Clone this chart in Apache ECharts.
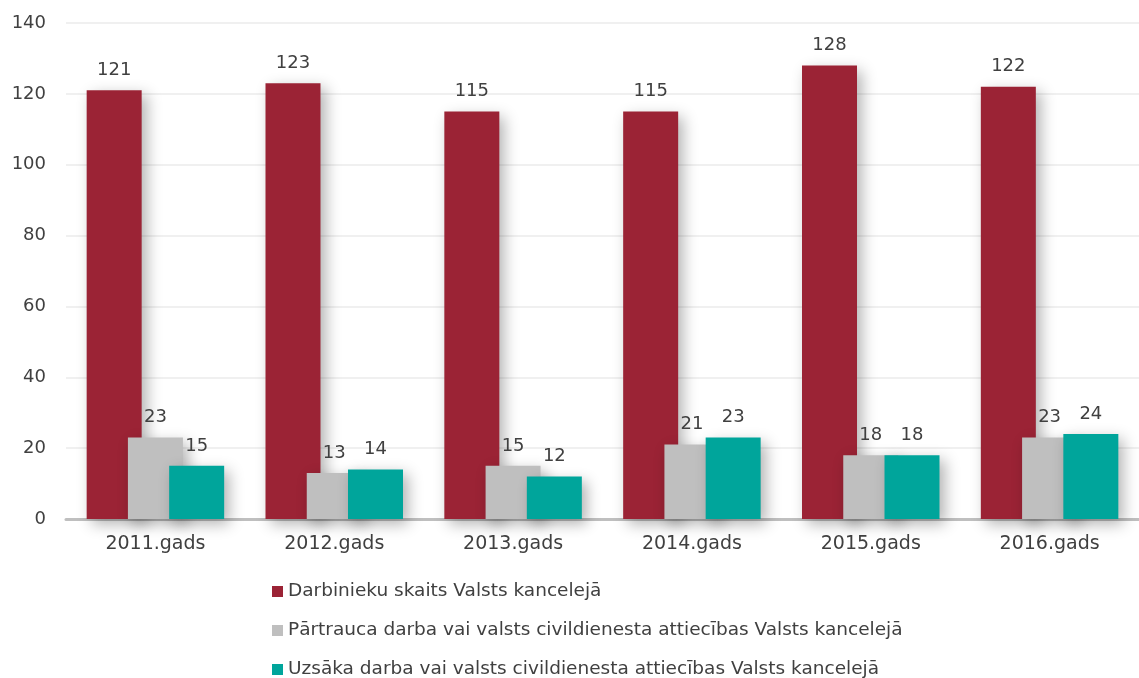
<!DOCTYPE html>
<html>
<head>
<meta charset="utf-8">
<script src="https://cdn.jsdelivr.net/npm/echarts@6/dist/echarts.min.js"></script>
<style>
html, body { margin: 0; padding: 0; background: #fff; }
#chart { width: 1139px; height: 678px; }
</style>
</head>
<body>
<div id="chart"></div>
<script>
// dati no attēla
var years = ["2011.gads", "2012.gads", "2013.gads", "2014.gads", "2015.gads", "2016.gads"];
var seriesNames = [
	"Darbinieku skaits Valsts kancelejā",
	"Pārtrauca darba vai valsts civildienesta attiecības Valsts kancelejā",
	"Uzsāka darba vai valsts civildienesta attiecības Valsts kancelejā"
];
var staff = [121, 123, 115, 115, 128, 122];
var left = [23, 13, 15, 21, 18, 23];
var joined = [15, 14, 12, 23, 18, 24];
var colors = ["#9b2335", "#bfbfbf", "#00a59b"];

var font = "DejaVu Sans";
var textColor = "#404040";

function barSeries(name, data, color) {
	return {
		name: name,
		type: "bar",
		data: data,
		barWidth: 55,
		barGap: "-25%",
		itemStyle: {
			color: color,
			shadowBlur: 14,
			shadowOffsetX: 5,
			shadowOffsetY: 5,
			shadowColor: "rgba(0, 0, 0, 0.3)"
		},
		label: {
			show: true,
			position: "top",
			distance: 11,
			fontFamily: font,
			fontSize: 18,
			color: textColor
		}
	};
}

var myChart = echarts.init(document.getElementById("chart"));
myChart.setOption({
	animation: false,
	textStyle: { fontFamily: font },
	grid: {
		left: 66,
		top: 23,
		width: 1084,
		height: 496,
		containLabel: false
	},
	legend: {
		orient: "vertical",
		left: 272,
		top: 582,
		height: 120,
		padding: 0,
		itemWidth: 11,
		itemHeight: 11,
		itemGap: 20,
		icon: "rect",
		textStyle: { fontFamily: font, fontSize: 18.5, color: textColor },
		data: seriesNames
	},
	xAxis: {
		type: "category",
		data: years,
		axisLine: { lineStyle: { color: "#bfbfbf", width: 3 } },
		axisTick: { show: false },
		axisLabel: { fontFamily: font, fontSize: 19, color: textColor, margin: 16 }
	},
	yAxis: {
		type: "value",
		min: 0,
		max: 140,
		interval: 20,
		axisLine: { show: false },
		axisTick: { show: false },
		splitLine: { lineStyle: { color: "#f0f0f0", width: 2 } },
		axisLabel: { fontFamily: font, fontSize: 18, color: textColor, margin: 20 }
	},
	series: [
		barSeries(seriesNames[0], staff, colors[0]),
		barSeries(seriesNames[1], left, colors[1]),
		barSeries(seriesNames[2], joined, colors[2])
	]
});
</script>
</body>
</html>
